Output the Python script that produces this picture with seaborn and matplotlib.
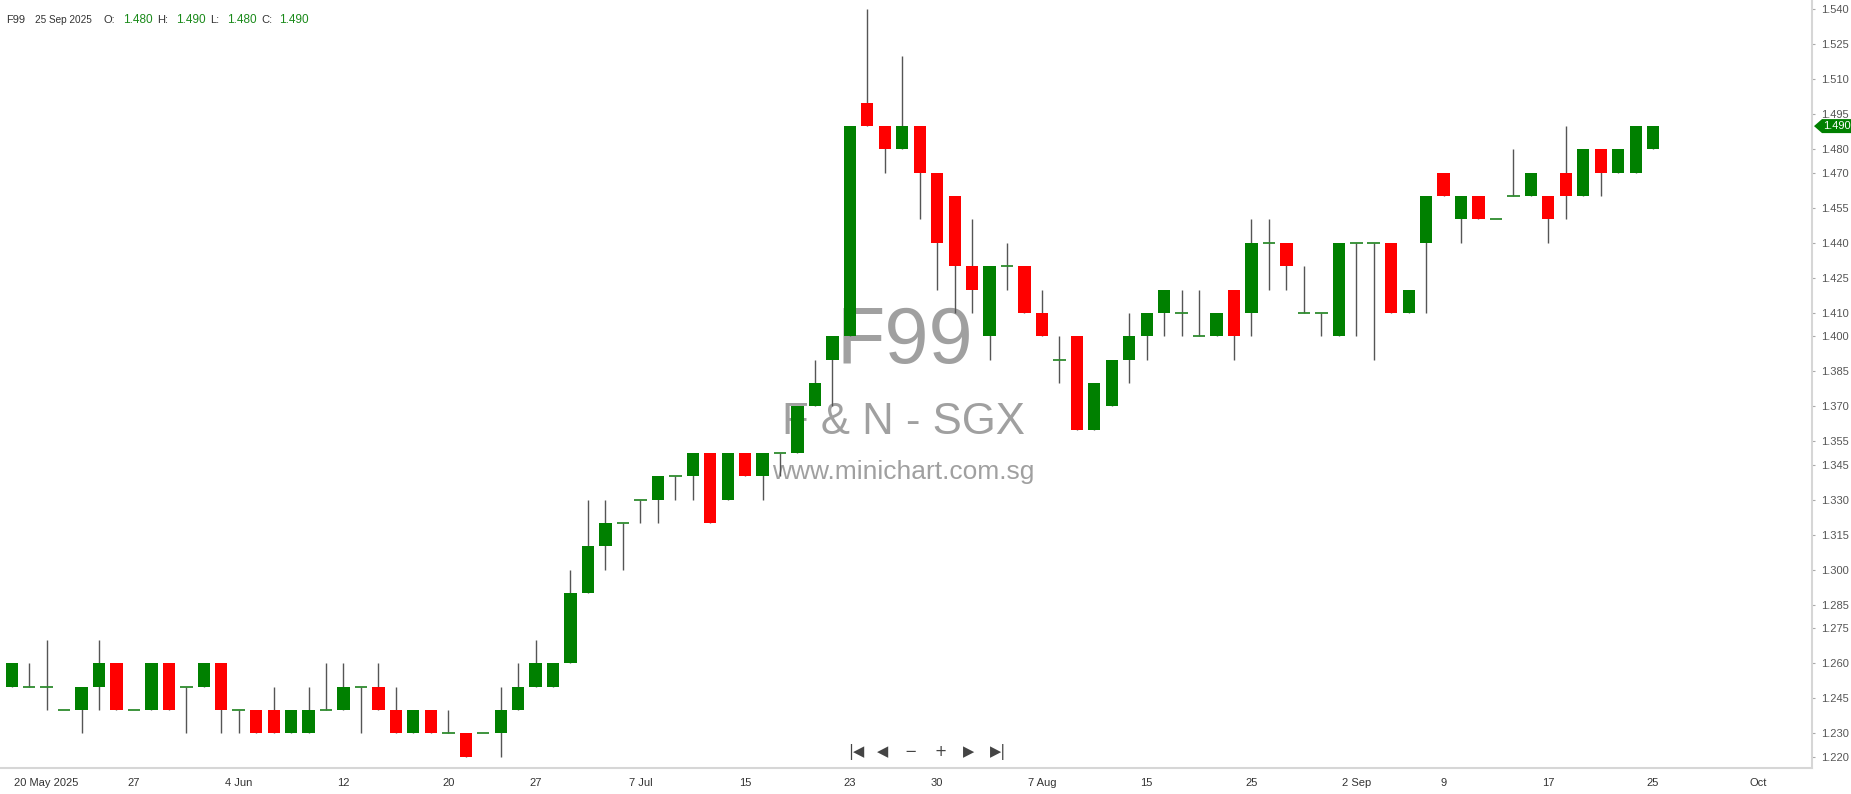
import numpy as np
import pandas as pd
import matplotlib
matplotlib.use("Agg")
import matplotlib.pyplot as plt
from matplotlib.patches import Polygon
import seaborn as sns

# ======================
# DATA (daily OHLC, F99 F & N - SGX)
# ======================
opens = [1.25, 1.25, 1.25, 1.24, 1.24, 1.25, 1.26, 1.24, 1.24, 1.26,
         1.25, 1.25, 1.26, 1.24, 1.24, 1.24, 1.23, 1.23, 1.24, 1.24,
         1.25, 1.25, 1.24, 1.23, 1.24, 1.23, 1.23, 1.23, 1.23, 1.24,
         1.25, 1.25, 1.26, 1.29, 1.31, 1.32, 1.33, 1.33, 1.34, 1.34,
         1.35, 1.33, 1.35, 1.34, 1.35, 1.35, 1.37, 1.39, 1.40, 1.50,
         1.49, 1.48, 1.49, 1.47, 1.46, 1.43, 1.40, 1.43, 1.43, 1.41,
         1.39, 1.40, 1.36, 1.37, 1.39, 1.40, 1.41, 1.41, 1.40, 1.40,
         1.42, 1.41, 1.44, 1.44, 1.41, 1.41, 1.40, 1.44, 1.44, 1.44,
         1.41, 1.44, 1.47, 1.45, 1.46, 1.45, 1.46, 1.46, 1.46, 1.47,
         1.46, 1.48, 1.47, 1.47, 1.48]
highs = [1.26, 1.26, 1.27, 1.24, 1.25, 1.27, 1.26, 1.24, 1.26, 1.26,
         1.25, 1.26, 1.26, 1.24, 1.24, 1.25, 1.24, 1.25, 1.26, 1.26,
         1.25, 1.26, 1.25, 1.24, 1.24, 1.24, 1.23, 1.23, 1.25, 1.26,
         1.27, 1.26, 1.30, 1.33, 1.33, 1.32, 1.33, 1.34, 1.34, 1.35,
         1.35, 1.35, 1.35, 1.35, 1.35, 1.37, 1.39, 1.40, 1.49, 1.54,
         1.49, 1.52, 1.49, 1.47, 1.46, 1.45, 1.43, 1.44, 1.43, 1.42,
         1.40, 1.40, 1.38, 1.39, 1.41, 1.41, 1.42, 1.42, 1.42, 1.41,
         1.42, 1.45, 1.45, 1.44, 1.43, 1.41, 1.44, 1.44, 1.44, 1.44,
         1.42, 1.46, 1.47, 1.46, 1.46, 1.45, 1.48, 1.47, 1.46, 1.49,
         1.48, 1.48, 1.48, 1.49, 1.49]
lows = [1.25, 1.25, 1.24, 1.24, 1.23, 1.24, 1.24, 1.24, 1.24, 1.24,
        1.23, 1.25, 1.23, 1.23, 1.23, 1.23, 1.23, 1.23, 1.24, 1.24,
        1.23, 1.24, 1.23, 1.23, 1.23, 1.23, 1.22, 1.23, 1.22, 1.24,
        1.25, 1.25, 1.26, 1.29, 1.30, 1.30, 1.32, 1.32, 1.33, 1.33,
        1.32, 1.33, 1.34, 1.33, 1.34, 1.35, 1.37, 1.37, 1.40, 1.49,
        1.47, 1.48, 1.45, 1.42, 1.41, 1.41, 1.39, 1.42, 1.41, 1.40,
        1.38, 1.36, 1.36, 1.37, 1.38, 1.39, 1.40, 1.40, 1.40, 1.40,
        1.39, 1.40, 1.42, 1.42, 1.41, 1.40, 1.40, 1.40, 1.39, 1.41,
        1.41, 1.41, 1.46, 1.44, 1.45, 1.45, 1.46, 1.46, 1.44, 1.45,
        1.46, 1.46, 1.47, 1.47, 1.48]
closes = [1.26, 1.25, 1.25, 1.24, 1.25, 1.26, 1.24, 1.24, 1.26, 1.24,
          1.25, 1.26, 1.24, 1.24, 1.23, 1.23, 1.24, 1.24, 1.24, 1.25,
          1.25, 1.24, 1.23, 1.24, 1.23, 1.23, 1.22, 1.23, 1.24, 1.25,
          1.26, 1.26, 1.29, 1.31, 1.32, 1.32, 1.33, 1.34, 1.34, 1.35,
          1.32, 1.35, 1.34, 1.35, 1.35, 1.37, 1.38, 1.40, 1.49, 1.49,
          1.48, 1.49, 1.47, 1.44, 1.43, 1.42, 1.43, 1.43, 1.41, 1.40,
          1.39, 1.36, 1.38, 1.39, 1.40, 1.41, 1.42, 1.41, 1.40, 1.41,
          1.40, 1.44, 1.44, 1.43, 1.41, 1.41, 1.44, 1.44, 1.44, 1.41,
          1.42, 1.46, 1.46, 1.46, 1.45, 1.45, 1.46, 1.47, 1.45, 1.46,
          1.48, 1.47, 1.48, 1.49, 1.49]

x_tick_pos = [2, 7, 13, 19, 25, 30, 36, 42, 48, 53, 59, 65, 71, 77, 82, 88, 94, 100]
x_tick_labels = ["20 May 2025", "27", "4 Jun", "12", "20", "27", "7 Jul", "15", "23",
                 "30", "7 Aug", "15", "25", "2 Sep", "9", "17", "25", "Oct"]
y_ticks = [1.540, 1.525, 1.510, 1.495, 1.480, 1.470, 1.455, 1.440, 1.425, 1.410,
           1.400, 1.385, 1.370, 1.355, 1.345, 1.330, 1.315, 1.300, 1.285, 1.275,
           1.260, 1.245, 1.230, 1.220]
last_price = 1.490

df = pd.DataFrame({"open": opens, "high": highs, "low": lows, "close": closes})
df["idx"] = np.arange(len(df))
df["up"] = df["close"] >= df["open"]

# ======================
# STYLE
# ======================
sns.set_theme(style="white")
plt.rcParams["font.family"] = ["Liberation Sans", "DejaVu Sans"]

GREEN = "#008000"
RED = "#ff0000"
W, H = 1851, 794

fig = plt.figure(figsize=(W / 100, H / 100), dpi=100)
ax = fig.add_axes([0, 26 / H, 1812 / W, 768 / H])

# watermark
ax.text(905 / W, 1 - 343 / H, "F99", transform=fig.transFigure, ha="center", va="center",
        fontsize=57, color="#a0a0a0", zorder=1)
ax.text(903 / W, 1 - 423 / H, "F & N - SGX", transform=fig.transFigure, ha="center",
        va="center", fontsize=31.5, color="#a0a0a0", zorder=1)
ax.text(903 / W, 1 - 472 / H, "www.minichart.com.sg", transform=fig.transFigure,
        ha="center", va="center", fontsize=19, color="#a0a0a0", zorder=1)

# ======================
# CANDLES
# ======================
ax.vlines(df["idx"], df["low"], df["high"], color="#555555", lw=1.0, zorder=2)

body = df[df["open"] != df["close"]]
ax.bar(body["idx"], (body["close"] - body["open"]).abs(),
       bottom=body[["open", "close"]].min(axis=1), width=0.7,
       color=np.where(body["up"], GREEN, RED), linewidth=0, zorder=3)

doji = df[df["open"] == df["close"]]
ax.hlines(doji["close"], doji["idx"] - 0.36, doji["idx"] + 0.36,
          color="#2e8b2e", lw=1.3, zorder=3)

# ======================
# AXES
# ======================
ax.set_xlim(-0.67, 103.1)
ax.set_ylim(1.2151, 1.5440)
ax.set_xticks(x_tick_pos)
ax.set_xticklabels(x_tick_labels)
ax.set_yticks(y_ticks)
ax.set_yticklabels([f"{v:.3f}" for v in y_ticks])
ax.yaxis.tick_right()
ax.tick_params(axis="y", right=True, length=2.5, width=0.8, color="#aaaaaa",
               labelsize=8, labelcolor="#555555", pad=4)
ax.tick_params(axis="x", length=0, labelsize=8, labelcolor="#333333", pad=7)
for s in ["top", "left"]:
    ax.spines[s].set_visible(False)
for s in ["right", "bottom"]:
    ax.spines[s].set_color("#d6d6d6")
    ax.spines[s].set_linewidth(1.5)
ax.grid(False)

# last price marker
y_pix = ax.transData.transform((0, last_price))[1]
yt = y_pix / H
hh = 7 / H
marker = Polygon([(1814 / W, yt), (1822 / W, yt + hh), (1851 / W, yt + hh),
                  (1851 / W, yt - hh), (1822 / W, yt - hh)],
                 closed=True, transform=fig.transFigure, facecolor=GREEN,
                 edgecolor="none", clip_on=False)
fig.patches.append(marker)
fig.text(1837 / W, yt, f"{last_price:.3f}", ha="center", va="center",
         fontsize=8, color="white")

# header
header = [("F99", 6, "#333333", 8), ("25 Sep 2025", 35, "#333333", 7.2),
          ("O:", 103, "#333333", 8), ("1.480", 123, "#1a8a1a", 8.5),
          ("H:", 157, "#333333", 8), ("1.490", 176, "#1a8a1a", 8.5),
          ("L:", 210, "#333333", 8), ("1.480", 227, "#1a8a1a", 8.5),
          ("C:", 261, "#333333", 8), ("1.490", 279, "#1a8a1a", 8.5)]
for txt, xp, col, fs in header:
    fig.text(xp / W, 1 - 20 / H, txt, ha="left", va="center", fontsize=fs, color=col)

# navigation icons
nav = [("|◀", 856), ("◀", 883), ("−", 911), ("+", 941), ("▶", 969), ("▶|", 998)]
for sym, xp in nav:
    fig.text(xp / W, 1 - 752 / H, sym, ha="center", va="center", fontsize=10.5,
             color="#444444", family=["DejaVu Sans"])

fig.savefig("out.png", dpi=100)
